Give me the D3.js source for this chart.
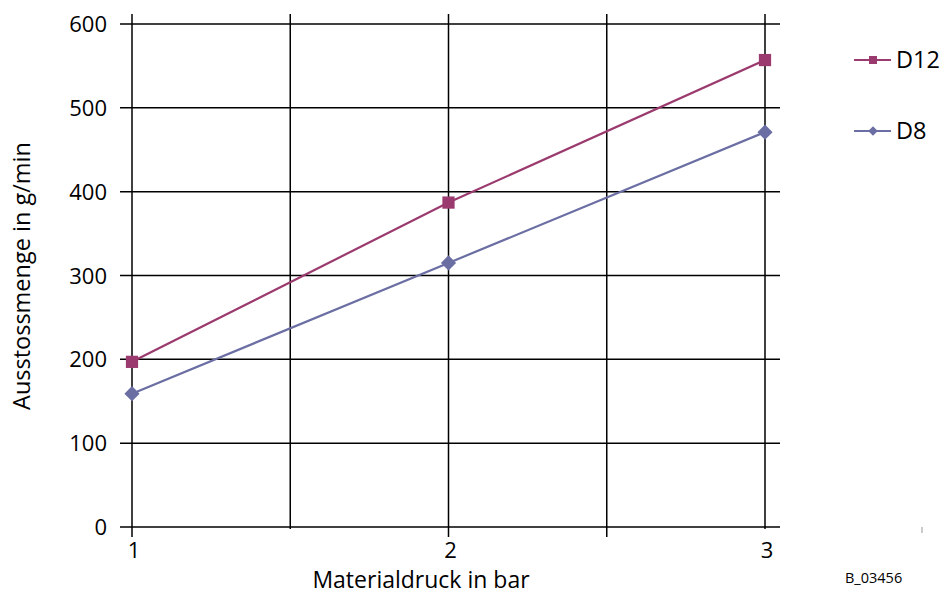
<!DOCTYPE html>
<html><head><meta charset="utf-8">
<script src="https://cdn.jsdelivr.net/npm/d3@7"></script>
<style>body{margin:0;background:#fff}svg{display:block}text{font-family:"Open Sans",sans-serif}</style>
</head><body><svg id="c" width="944" height="597"></svg>
<script>
const xCats = [1, 2, 3];
const xGrid = [1, 1.5, 2, 2.5, 3];
const yTicks = [0, 100, 200, 300, 400, 500, 600];
const d12 = [197, 387, 557];
const d8 = [159, 315, 471];
const seriesNames = ["D12", "D8"];
const colors = {"D12": "#9b3a6e", "D8": "#6a6ea3"};

const svg = d3.select("#c");
const x = d3.scaleLinear().domain([1, 3]).range([132, 765]);
const y = d3.scaleLinear().domain([0, 600]).range([527, 24]);

svg.append("g").selectAll("line").data(yTicks).join("line")
  .attr("x1", 120).attr("x2", 780)
  .attr("y1", d => y(d)).attr("y2", d => y(d))
  .attr("stroke", "#000").attr("stroke-width", 1.5);
svg.append("g").selectAll("line").data(xGrid).join("line")
  .attr("x1", d => x(d)).attr("x2", d => x(d))
  .attr("y1", 14).attr("y2", d => (d === 1.5 || d === 3) ? 529 : 537)
  .attr("stroke", "#000").attr("stroke-width", 1.5);

svg.append("g").selectAll("text").data(yTicks).join("text")
  .attr("x", 107).attr("y", d => y(d) + 8)
  .attr("text-anchor", "end").attr("font-size", 22).text(d => d);
svg.append("g").selectAll("text").data(xCats).join("text")
  .attr("x", d => x(d) + 2).attr("y", 558)
  .attr("text-anchor", "middle").attr("font-size", 22).text(d => d);

svg.append("text").attr("x", 421).attr("y", 588).attr("text-anchor", "middle")
  .attr("font-size", 23).text("Materialdruck in bar");
svg.append("text").attr("transform", "translate(30,276) rotate(-90)")
  .attr("text-anchor", "middle").attr("font-size", 23.5).text("Ausstossmenge in g/min");

const line = d3.line().x((d, i) => x(xCats[i])).y(d => y(d));
const data = {"D12": d12, "D8": d8};
const sq = d3.symbol().type(d3.symbolSquare).size(150);
const di = d3.symbol().type(d3.symbolSquare).size(115);
seriesNames.forEach(name => {
  const vals = data[name];
  svg.append("path").datum(vals).attr("d", line)
    .attr("fill", "none").attr("stroke", colors[name]).attr("stroke-width", 2.2);
  svg.append("g").selectAll("path").data(vals).join("path")
    .attr("transform", (d, i) => `translate(${x(xCats[i])},${y(d)})` + (name === "D12" ? "" : " rotate(45)"))
    .attr("d", name === "D12" ? sq : di).attr("fill", colors[name]);
});

const legY = {"D12": 60, "D8": 131};
seriesNames.forEach(name => {
  const g = svg.append("g").attr("transform", `translate(0,${legY[name]})`);
  g.append("line").attr("x1", 854).attr("x2", 891).attr("y1", 0).attr("y2", 0)
    .attr("stroke", colors[name]).attr("stroke-width", 2.2);
  g.append("path").attr("transform", "translate(873,0)" + (name === "D12" ? "" : " rotate(45)"))
    .attr("d", d3.symbol().type(d3.symbolSquare).size(name === "D12" ? 64 : 45)())
    .attr("fill", colors[name]);
  g.append("text").attr("x", 896).attr("y", 8).attr("font-size", 23.5).text(name);
});

svg.append("text").attr("x", 845).attr("y", 583).attr("font-size", 14.5).text("B_03456");
svg.append("line").attr("x1", 922).attr("x2", 922).attr("y1", 527).attr("y2", 533)
  .attr("stroke", "#999").attr("stroke-width", 1);
</script></body></html>
